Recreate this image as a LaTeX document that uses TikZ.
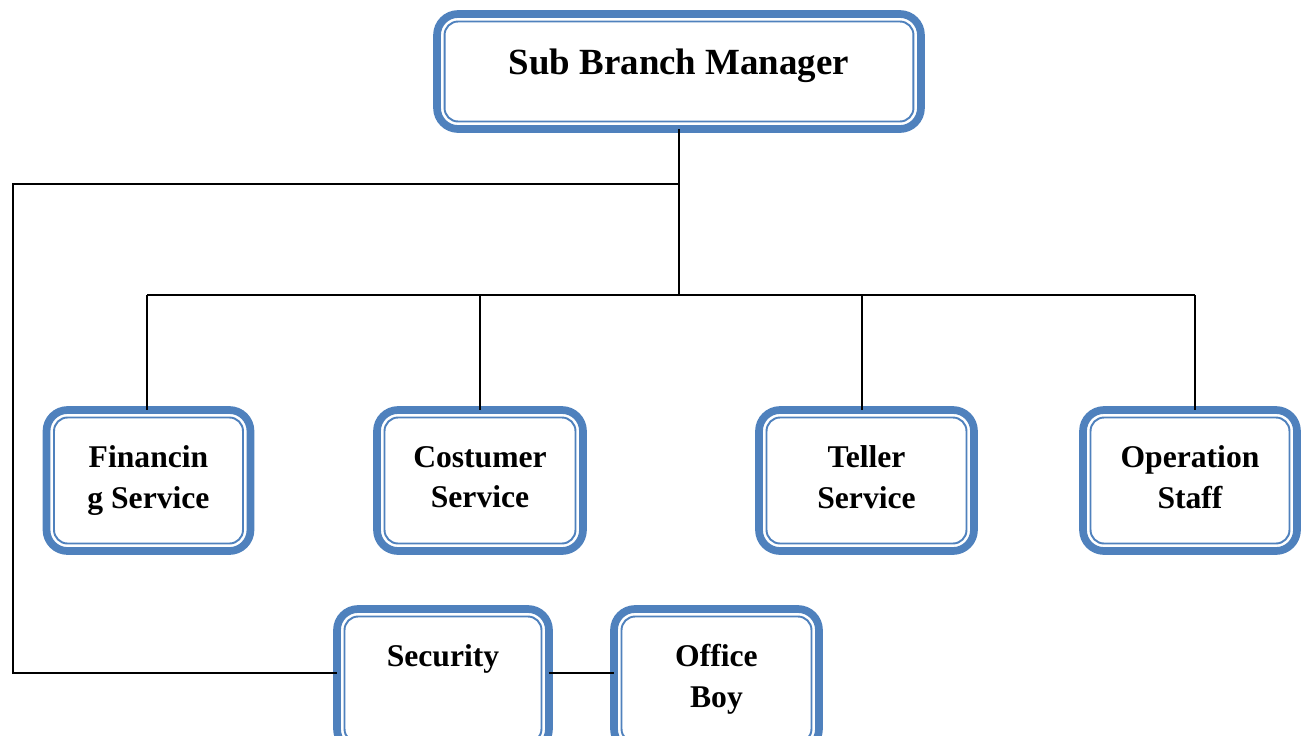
\documentclass[tikz,border=0pt]{standalone}
\usepackage{fontspec}
\setmainfont{Liberation Serif}
\definecolor{boxblue}{RGB}{79,129,189}

\begin{document}
\begin{tikzpicture}[x=0.02cm, y=-0.02cm,
  unit/.style={draw=boxblue, line width=4.4pt, fill=white, rounded corners=0.42cm,
    inner sep=0pt, outer sep=0pt, align=center, minimum height=2.82cm, text depth=4pt,
    font={\fontsize{18}{23}\selectfont\bfseries}},
  innerline/.style={draw=boxblue, line width=1.1pt, rounded corners=0.27cm},
  link/.style={draw=black, line width=0.9pt}]

\clip (0,0) rectangle (1312,735);

% head of the branch
\node [unit, minimum width=9.68cm, minimum height=2.3cm, text height=15pt, text depth=12pt,
  font={\fontsize{21}{21}\selectfont\bfseries}] (sbm) at (679,71.5) {Sub Branch Manager};

% service units
\node [unit, minimum width=4.08cm] (fs) at (148.5,480.5) {Financin\\g Service};
\node [unit, minimum width=4.12cm] (cs) at (480,480.5) {Costumer\\Service};
\node [unit, minimum width=4.30cm] (ts) at (866.5,480.5) {Teller\\Service};
\node [unit, minimum width=4.28cm] (os) at (1190,480.5) {Operation\\Staff};

% support staff
\node [unit, minimum width=4.24cm] (sec) at (443,679.5) {Security\\~};
\node [unit, minimum width=4.10cm] (boy) at (716.5,679.5) {Office\\Boy};

% thin inner outline of every box
\foreach \n in {sbm,fs,cs,ts,os,sec,boy}
  \draw [innerline] ([shift={(0.15cm,-0.15cm)}]\n.north west)
    rectangle ([shift={(-0.15cm,0.15cm)}]\n.south east);

\coordinate (busL) at (147,295);
\coordinate (busR) at (1195,295);
\coordinate (sideT) at (13,184);
\coordinate (sideB) at (13,673);

% bus to the service units
\draw [link] (sbm.south) -- (sbm.south |- busL);
\draw [link] (busL) -- (busR);
\foreach \n/\x in {fs/147, cs/480, ts/862, os/1195}
  \draw [link] (\x,295) -- (\x,295 |- \n.north);

% side line to security and office boy
\draw [link] (sbm.south |- sideT) -- (sideT) -- (sideB) -- (sec.west |- sideB);
\draw [link] (sec.east |- sideB) -- (boy.west |- sideB);

\end{tikzpicture}
\end{document}
